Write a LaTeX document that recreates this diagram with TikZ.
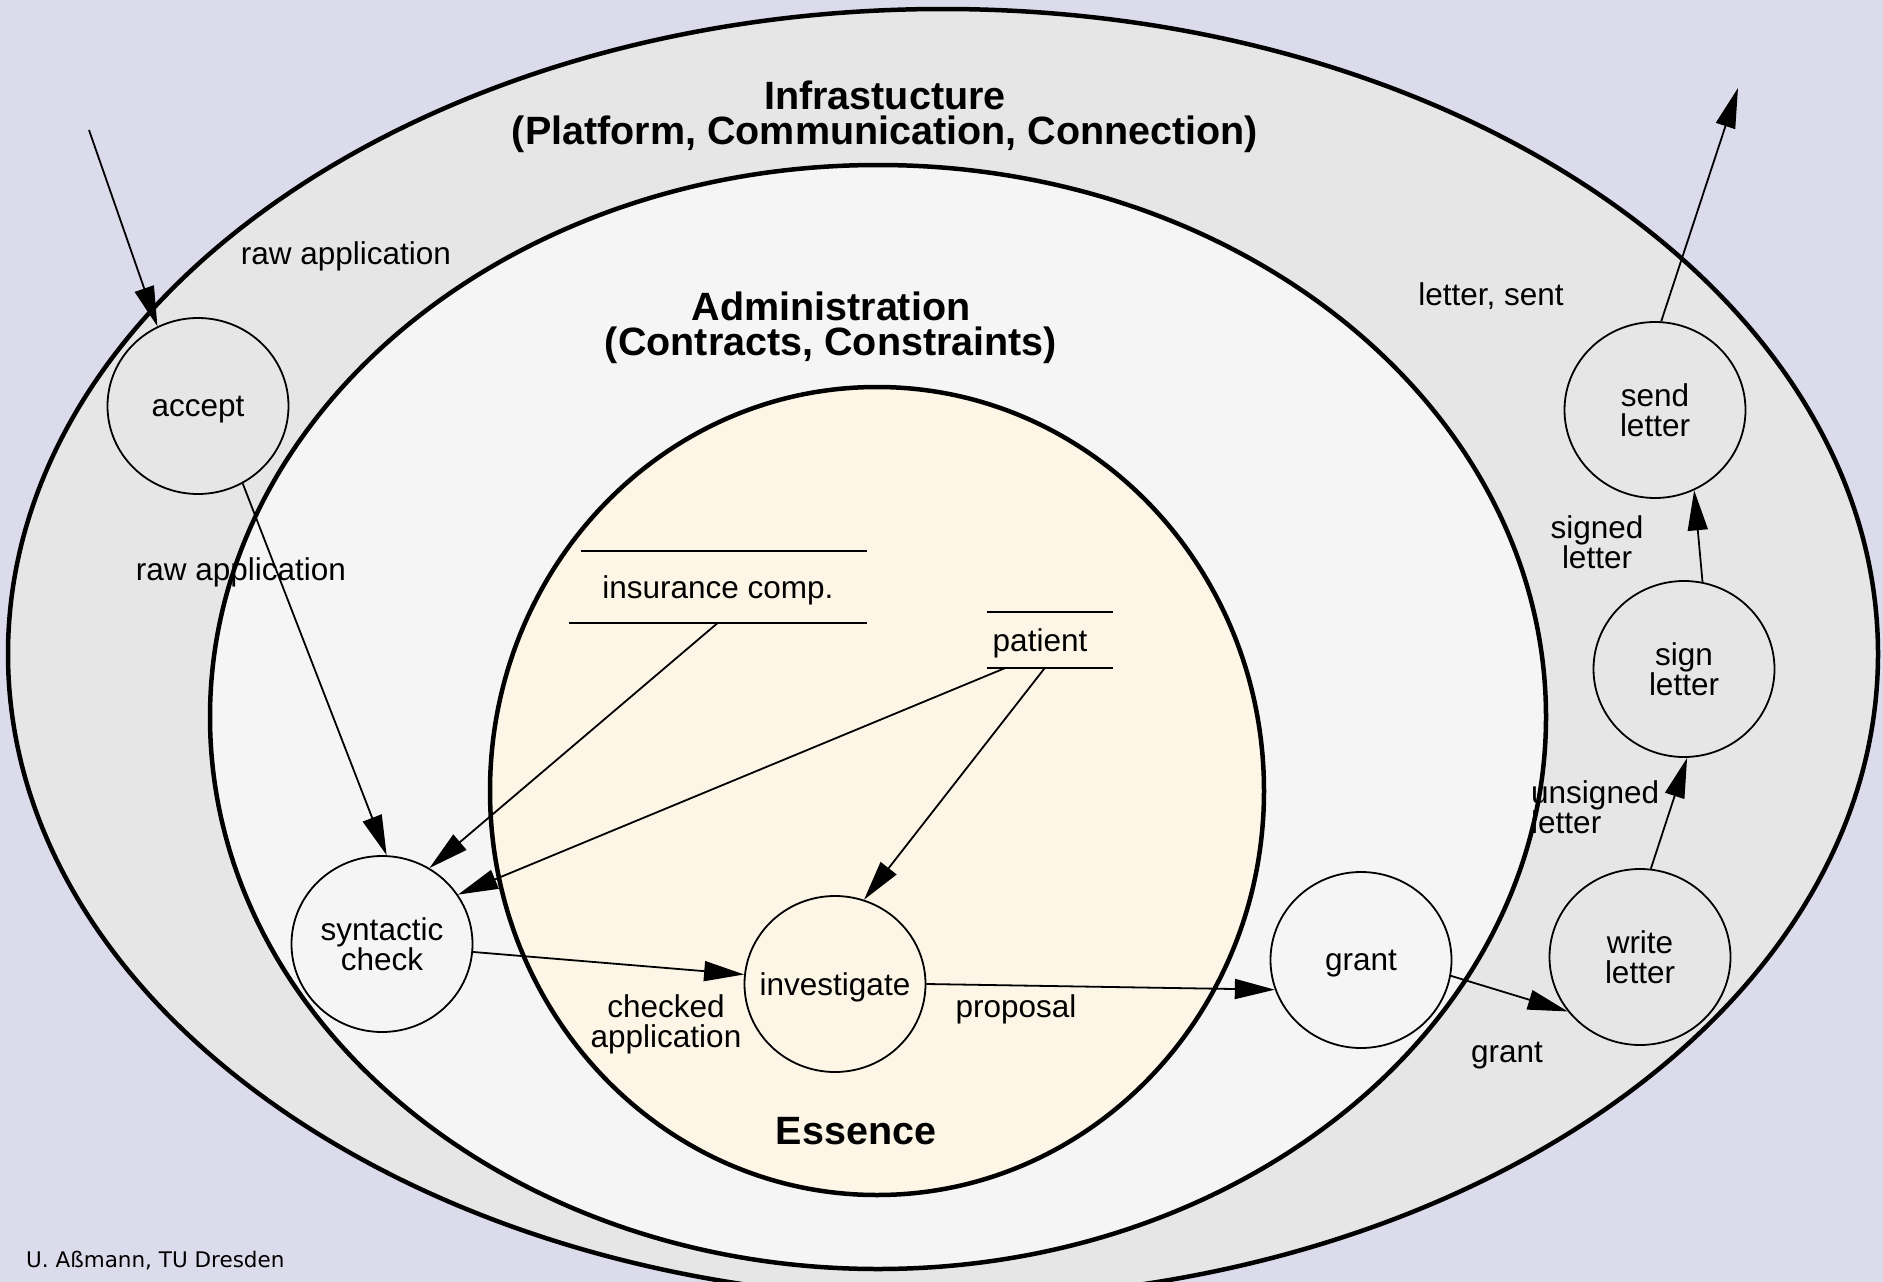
\documentclass[tikz,border=0pt]{standalone}
\usepackage{fontspec}
\setmainfont{Liberation Sans}
\newfontfamily\footfont{DejaVu Sans}
\usetikzlibrary{arrows.meta,shapes.geometric}
\usepackage{xcolor}

\definecolor{bgpage}{HTML}{DCDBEC}
\definecolor{infra}{HTML}{E6E6E6}
\definecolor{admin}{HTML}{F5F5F5}
\definecolor{essence}{HTML}{FDF5E6}

\newcommand{\lbltext}{\fontsize{31.5}{30}\selectfont}
\newcommand{\titletext}{\fontsize{39.5}{35}\selectfont\bfseries}
\newcommand{\credittext}{\footfont\fontsize{21.5}{24}\selectfont}

\begin{document}
\begin{tikzpicture}[x=1pt,y=-1pt,
    layer/.style={line width=4.5pt},
    proc/.style={draw,ellipse,line width=1.8pt,minimum width=181pt,minimum height=176pt,inner sep=-15pt,text depth=0pt,align=center,font=\lbltext},
    store/.style={inner sep=0pt,text depth=0pt,font=\lbltext},
    storeline/.style={line width=2.2pt},
    lbl/.style={inner sep=0pt,text depth=0pt,align=center,font=\lbltext},
    title/.style={inner sep=0pt,align=center,font=\titletext},
    flow/.style={-{Triangle[length=40pt,width=20pt]},line width=1.8pt}]
    \useasboundingbox (0,0) rectangle (1883,1282);
    \fill[bgpage] (0,0) rectangle (1883,1282);
    \clip (0,0) rectangle (1883,1282);

    % the three layers
    \draw[layer,fill=infra] (943,654) ellipse [x radius=935,y radius=645];
    \draw[layer,fill=admin] (878,717) ellipse [x radius=668,y radius=552];
    \draw[layer,fill=essence] (877,791) ellipse [x radius=387,y radius=404];

    \node (infratitle) [title] at (885,117) {Infrastucture\\(Platform, Communication, Connection)};
    \node (admintitle) [title] at (831,328) {Administration\\(Contracts, Constraints)};
    \node (esstitle) [title] at (856,1131) {Essence};

    % processes
    \node (accept) [proc] at (198,406) {accept};
    \node (syncheck) [proc] at (382,944) {syntactic\\check};
    \node (investigate) [proc] at (835,984) {investigate};
    \node (grant) [proc] at (1361,960) {grant};
    \node (writeletter) [proc] at (1640,957) {write\\letter};
    \node (signletter) [proc] at (1684,669) {sign\\letter};
    \node (sendletter) [proc] at (1655,410) {send\\letter};

    % data stores
    \node (inscomp) [store,minimum width=286pt,minimum height=71pt] at (718,587) {insurance comp.};
    \node (patient) [store,minimum width=126pt,minimum height=55pt] at (1040,640) {patient};
    \draw[storeline] ([xshift=6pt]inscomp.north west) -- ([xshift=6pt]inscomp.north east);
    \draw[storeline] ([xshift=-6pt]inscomp.south west) -- ([xshift=6pt]inscomp.south east);
    \draw[storeline] ([xshift=10pt]patient.north west) -- ([xshift=10pt]patient.north east);
    \draw[storeline] ([xshift=10pt]patient.south west) -- ([xshift=10pt]patient.south east);

    % flow labels
    \node (rawin) [lbl] at (346,253) {raw application};
    \node (rawout) [lbl] at (241,569) {raw application};
    \node (sentlbl) [lbl] at (1491,294) {letter, sent};
    \node (signedlbl) [lbl] at (1597,542) {signed\\letter};
    \node (unsignedlbl) [lbl,align=left,anchor=west] at (1531,807) {unsigned\\letter};
    \node (checkedlbl) [lbl] at (666,1021) {checked\\application};
    \node (proplbl) [lbl] at (1016,1006) {proposal};
    \node (grantlbl) [lbl] at (1507,1052) {grant};

    % flows
    \coordinate (inflow) at (89,130);
    \coordinate (outflow) at (1738,88);
    \draw[flow] (inflow) -- (accept.117);
    \draw[flow] (accept.-60) -- (syncheck.87);
    \draw[flow] (inscomp.south) -- (syncheck.58);
    \draw[flow] ([xshift=-34pt]patient.south) -- (syncheck.33);
    \draw[flow] ([xshift=5pt]patient.south) -- (investigate.71);
    \draw[flow] (syncheck.-5) -- (investigate.174);
    \draw[flow] (investigate.0) -- (grant.199);
    \draw[flow] (grant.-10) -- (writeletter.217);
    \draw[flow] (writeletter.83) -- (signletter.272);
    \draw[flow] (signletter.78) -- (sendletter.-64);
    \draw[flow] (sendletter.86) -- (outflow);

    \node (credit) [anchor=west,inner sep=0pt,font=\credittext] at (26,1261) {U. Aßmann, TU Dresden};
\end{tikzpicture}
\end{document}
